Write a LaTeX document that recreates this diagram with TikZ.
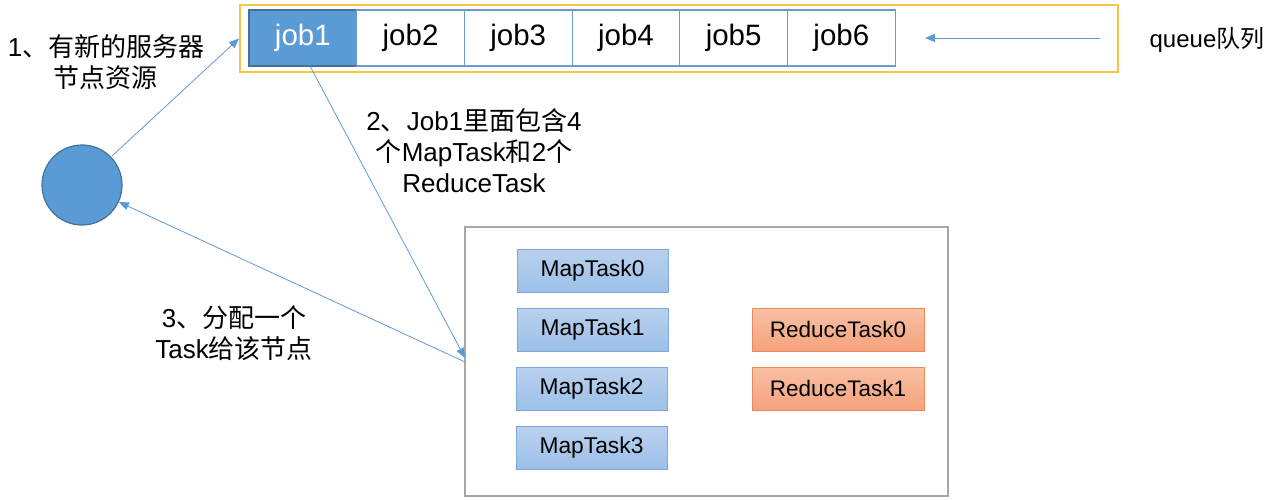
\documentclass[tikz,border=0pt]{standalone}
\usepackage{fontspec}
\setmainfont{Liberation Sans}
\newfontfamily\cjk{Noto Sans CJK SC}
\usetikzlibrary{arrows.meta}
\definecolor{jobblue}{HTML}{5B9BD5}
\definecolor{jobdark}{HTML}{41719C}
\definecolor{cellline}{HTML}{6A9CD0}
\definecolor{qyellow}{HTML}{F7C543}
\definecolor{boxgray}{HTML}{A6A6A6}
\definecolor{maptop}{HTML}{B9D1EE}
\definecolor{mapbot}{HTML}{9CC0E8}
\definecolor{mapline}{HTML}{7FA8DA}
\definecolor{redtop}{HTML}{F8C0A4}
\definecolor{redbot}{HTML}{F4A27C}
\definecolor{redline}{HTML}{EA8A5C}
\tikzset{
  jobcell/.style={draw=cellline, line width=1.2pt, minimum width=107.7pt, minimum height=56pt, inner sep=0pt, font=\fontsize{29.5}{34}\selectfont},
  maptask/.style={draw=mapline, line width=1pt, top color=maptop, bottom color=mapbot, minimum width=151pt, minimum height=43pt, inner sep=0pt, font=\fontsize{22.8}{26}\selectfont},
  redtask/.style={draw=redline, line width=1pt, top color=redtop, bottom color=redbot, minimum width=172pt, minimum height=43pt, inner sep=0pt, font=\fontsize{22.5}{26}\selectfont},
  lbl/.style={align=center, inner sep=0pt, font=\fontsize{26}{31}\selectfont},
  conn/.style={draw=jobblue, line width=0.8pt, -{Triangle[length=10pt,width=8pt]}, shorten >=0pt}
}
\begin{document}
\begin{tikzpicture}[x=1pt,y=-1pt]
\useasboundingbox (0,0) rectangle (1277,500);
% queue box
\node[draw=qyellow, line width=2pt, minimum width=878pt, minimum height=67pt, inner sep=0pt] (qbox) at (679,38.5) {};
\node[jobcell, fill=jobblue, draw=jobdark, text=white] (job1) at (302.85,38) {job1};
\node[jobcell] (job2) at (410.55,38) {job2};
\node[jobcell] (job3) at (518.25,38) {job3};
\node[jobcell] (job4) at (625.95,38) {job4};
\node[jobcell] (job5) at (733.65,38) {job5};
\node[jobcell] (job6) at (841.35,38) {job6};
\coordinate (qa) at (1100,38);
\coordinate (qb) at (925,38);
\draw[conn] (qa) -- (qb);
\node[inner sep=0pt, font=\fontsize{24}{28}\selectfont] (qlbl) at (1207,40) {queue{\cjk 队列}};
% server node
\node[circle, fill=jobblue, draw=jobdark, line width=1.2pt, minimum size=80pt, inner sep=0pt] (srv) at (82,185) {};
% task box
\node[draw=boxgray, line width=1.5pt, minimum width=483pt, minimum height=269pt, inner sep=0pt] (tbox) at (706.5,361.5) {};
\node[maptask] (mt0) at (592.5,270.5) {MapTask0};
\node[maptask] (mt1) at (592.5,329.5) {MapTask1};
\node[maptask] (mt2) at (591.5,388.5) {MapTask2};
\node[maptask] (mt3) at (591.5,447.5) {MapTask3};
\node[redtask] (rt0) at (838,329.5) {ReduceTask0};
\node[redtask] (rt1) at (838,388.5) {ReduceTask1};
% labels
\node[lbl] (l1) at (106,62) {1{\cjk 、有新的服务器}\\{\cjk 节点资源}};
\node[lbl] (l2) at (474,151) {2{\cjk 、}Job1{\cjk 里面包含}4\\{\cjk 个}MapTask{\cjk 和}2{\cjk 个}\\ReduceTask};
\node[lbl] (l3) at (234,333) {3{\cjk 、分配一个}\\Task{\cjk 给该节点}};
% connectors
\coordinate (a1s) at (112,156);
\coordinate (a2s) at (310,66);
\coordinate (a2e) at (465,358);
\coordinate (a3s) at (465,362);
\draw[conn] (a1s) -- (qbox.west);
\draw[conn] (a2s) -- (a2e);
\draw[conn] (a3s) -- (srv);
\end{tikzpicture}
\end{document}
